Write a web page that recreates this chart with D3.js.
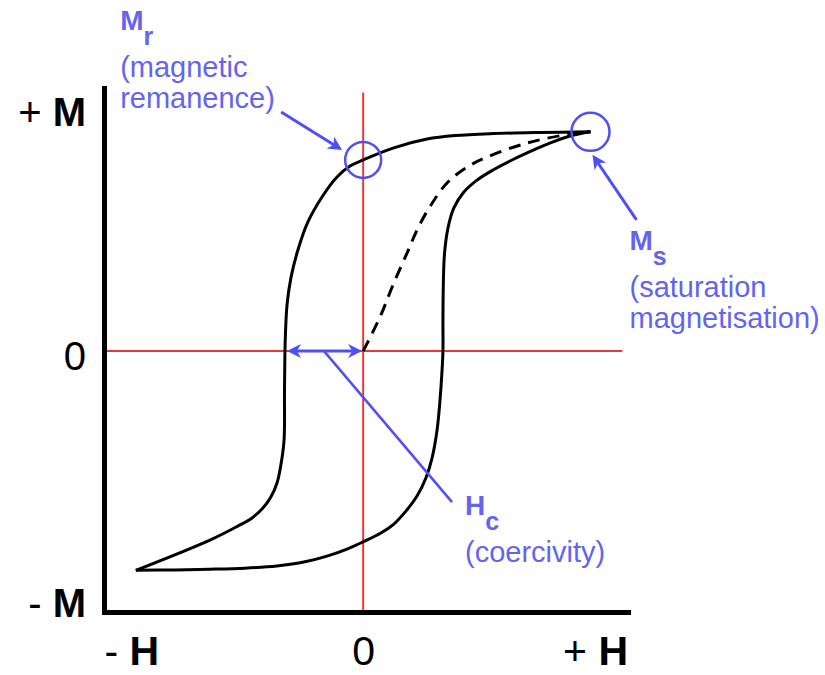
<!DOCTYPE html>
<html>
<head>
<meta charset="utf-8">
<script src="https://cdn.jsdelivr.net/npm/d3@7"></script>
<style>
  html, body { margin: 0; padding: 0; background: #ffffff; }
  svg { display: block; font-family: "Liberation Sans", Arial, Helvetica, sans-serif; }
</style>
</head>
<body>
<svg id="chart" width="825" height="675"></svg>
<script>
// Hysteresis loop: applied field H (in units of the saturating field)
// against magnetisation M (in units of the saturation magnetisation Ms).

// Upper branch: field reduced from +Hs down to -Hs
const upperH = [1.0, 0.778, 0.571, 0.404, 0.281, 0.131, 0.0, -0.058, -0.115, -0.181, -0.243, -0.287, -0.318, -0.335, -0.342, -0.344, -0.346, -0.348, -0.362, -0.379, -0.406, -0.441, -0.490, -0.551, -0.674, -1.0];
const upperM = [1.0, 0.997, 0.992, 0.983, 0.967, 0.926, 0.872, 0.844, 0.794, 0.703, 0.589, 0.461, 0.333, 0.210, 0.073, 0.0, -0.180, -0.406, -0.520, -0.602, -0.666, -0.716, -0.762, -0.798, -0.862, -1.0];

// Lower branch: field raised from -Hs back up to +Hs
const lowerH = [-1.0, -0.829, -0.674, -0.520, -0.380, -0.256, -0.159, -0.071, 0.0, 0.078, 0.135, 0.188, 0.237, 0.276, 0.303, 0.325, 0.338, 0.347, 0.351, 0.351, 0.353, 0.358, 0.373, 0.399, 0.443, 0.501, 0.571, 0.646, 0.721, 0.813, 0.910, 1.0];
const lowerM = [-1.0, -0.998, -0.995, -0.990, -0.980, -0.961, -0.935, -0.903, -0.870, -0.830, -0.789, -0.730, -0.661, -0.579, -0.488, -0.361, -0.224, -0.088, 0.0, 0.142, 0.324, 0.447, 0.561, 0.653, 0.726, 0.780, 0.826, 0.867, 0.904, 0.945, 0.981, 1.0];

// Initial magnetisation curve from the demagnetised state
const initialH = [0.0, 0.074, 0.131, 0.193, 0.241, 0.298, 0.369, 0.457, 0.545, 0.721, 0.910, 1.0];
const initialM = [0.0, 0.155, 0.301, 0.447, 0.561, 0.666, 0.767, 0.839, 0.885, 0.949, 0.990, 1.0];

// Axis tick labels
const hTickValues = [-1.02, 0, 1.02];
const hTickLabels = ["- H", "0", "+ H"];
const mTickValues = [-1.13, 0, 1.11];
const mTickLabels = ["- M", "0", "+ M"];

// Characteristic points of the loop
const remanence = { h: 0, m: 0.872 };    // Mr
const saturation = { h: 1, m: 1 };       // Ms
const coercivity = { h: -0.344, m: 0 };  // Hc

const svg = d3.select("#chart");
const W = 825, H = 675;

const x = d3.scaleLinear().domain([-1.14, 1.165]).range([104, 628]);
const y = d3.scaleLinear().domain([-1.19, 1.2]).range([612, 88]);

const RED = "#e8393b";
const BLUE = "#5050f2";
const BLUE_TEXT = "#6464ee";

svg.append("rect").attr("width", W).attr("height", H).attr("fill", "#ffffff");

// Arrowhead marker
const defs = svg.append("defs");
defs.append("marker")
  .attr("id", "arrow")
  .attr("viewBox", "-8 -8 18 16")
  .attr("refX", 0).attr("refY", 0)
  .attr("markerWidth", 18).attr("markerHeight", 16)
  .attr("markerUnits", "userSpaceOnUse")
  .attr("orient", "auto-start-reverse")
  .append("path")
  .attr("d", "M8,0 L-6,-7 L-2,0 L-6,7 Z")
  .attr("fill", BLUE);

// Reference lines through the origin
svg.append("line")
  .attr("x1", x(0)).attr("x2", x(0))
  .attr("y1", y(-1.19)).attr("y2", y(1.18))
  .attr("stroke", RED).attr("stroke-width", 2);
svg.append("line")
  .attr("x1", x(-1.14)).attr("x2", x(1.14))
  .attr("y1", y(0)).attr("y2", y(0))
  .attr("stroke", RED).attr("stroke-width", 2);

// Axes
function styleTicks(sel, fontSize, dy) {
  sel.attr("font-size", null).attr("font-family", null);
  sel.selectAll(".tick line").remove();
  sel.select(".domain")
    .attr("stroke", "#000").attr("stroke-width", 5)
    .attr("stroke-linecap", "square");
  sel.selectAll(".tick text")
    .attr("fill", "#000")
    .attr("font-size", fontSize)
    .attr("dy", dy)
    .each(function () {
      const t = d3.select(this);
      const label = t.text();
      t.text(null);
      const parts = label.match(/^([+-]) (.+)$/);
      if (parts) {
        t.append("tspan").text(parts[1] + "\u00a0");
        t.append("tspan").attr("font-weight", "bold").text(parts[2]);
      } else {
        t.append("tspan").text(label);
      }
    });
}

const xAxis = d3.axisBottom(x)
  .tickValues(hTickValues)
  .tickFormat((d, i) => hTickLabels[i])
  .tickSize(0).tickSizeOuter(0).tickPadding(53);
svg.append("g")
  .attr("transform", `translate(0,${y.range()[0]})`)
  .call(xAxis)
  .call(g => styleTicks(g, 41, "0"));

const yAxis = d3.axisLeft(y)
  .tickValues(mTickValues)
  .tickFormat((d, i) => mTickLabels[i])
  .tickSize(0).tickSizeOuter(0).tickPadding(18);
svg.append("g")
  .attr("transform", `translate(${x.range()[0]},0)`)
  .call(yAxis)
  .call(g => styleTicks(g, 40, "0.45em"));

// Loop curves
const line = d3.line()
  .x(d => x(d[0]))
  .y(d => y(d[1]))
  .curve(d3.curveCatmullRom.alpha(0.5));

const zip = (a, b) => a.map((v, i) => [v, b[i]]);

svg.append("path")
  .attr("d", line(zip(initialH, initialM)))
  .attr("fill", "none").attr("stroke", "#000")
  .attr("stroke-width", 3).attr("stroke-dasharray", "12,8");

svg.append("path")
  .attr("d", line(zip(upperH, upperM)))
  .attr("fill", "none").attr("stroke", "#000").attr("stroke-width", 3)
  .attr("stroke-linejoin", "round");

svg.append("path")
  .attr("d", line(zip(lowerH, lowerM)))
  .attr("fill", "none").attr("stroke", "#000").attr("stroke-width", 3)
  .attr("stroke-linejoin", "round");

// Annotation helpers
function arrowLine(x1, y1, x2, y2, both) {
  const dx = x2 - x1, dy = y2 - y1, len = Math.hypot(dx, dy);
  const ux = dx / len, uy = dy / len, cut = 8;
  const l = svg.append("line")
    .attr("x1", both ? x1 + ux * cut : x1).attr("y1", both ? y1 + uy * cut : y1)
    .attr("x2", x2 - ux * cut).attr("y2", y2 - uy * cut)
    .attr("stroke", BLUE).attr("stroke-width", 3)
    .attr("marker-end", "url(#arrow)");
  if (both) l.attr("marker-start", "url(#arrow)");
}

function label(px, py, symbol, sub, lines) {
  const g = svg.append("g").attr("fill", BLUE_TEXT);
  const t = g.append("text").attr("x", px).attr("y", py).attr("font-weight", "bold");
  t.append("tspan").attr("font-size", 28).text(symbol);
  t.append("tspan").attr("font-size", 25).attr("dy", 15).text(sub);
  lines.forEach((s, i) => {
    g.append("text")
      .attr("x", px).attr("y", py + 47 + i * 31)
      .attr("font-size", 29).text(s);
  });
}

// Remanence Mr
const rx = x(remanence.h), ry = y(remanence.m);
svg.append("circle").attr("cx", rx).attr("cy", ry).attr("r", 18)
  .attr("fill", "none").attr("stroke", BLUE).attr("stroke-width", 2.5);
arrowLine(rx - 82, ry - 48, rx - 21, ry - 10, false);
label(rx - 243, ry - 130, "M", "r", ["(magnetic", "remanence)"]);

// Saturation Ms
const sx = x(saturation.h), sy = y(saturation.m);
svg.append("circle").attr("cx", sx).attr("cy", sy).attr("r", 19)
  .attr("fill", "none").attr("stroke", BLUE).attr("stroke-width", 2.5);
arrowLine(sx + 46, sy + 88, sx + 2, sy + 23, false);
label(sx + 39, sy + 118, "M", "s", ["(saturation", "magnetisation)"]);

// Coercivity Hc
const cx0 = x(coercivity.h), cy0 = y(coercivity.m);
arrowLine(cx0 + 2, cy0, x(0) - 1, cy0, true);
const midX = (cx0 + x(0)) / 2;
svg.append("line")
  .attr("x1", midX).attr("y1", cy0)
  .attr("x2", midX + 128).attr("y2", cy0 + 151)
  .attr("stroke", BLUE).attr("stroke-width", 2.5);
const hcText = svg.append("g").attr("fill", BLUE_TEXT);
const ht = hcText.append("text").attr("x", midX + 141).attr("y", cy0 + 164).attr("font-weight", "bold");
ht.append("tspan").attr("font-size", 28).text("H");
ht.append("tspan").attr("font-size", 25).attr("dy", 15).text("c");
hcText.append("text").attr("x", midX + 141).attr("y", cy0 + 211)
  .attr("font-size", 29).text("(coercivity)");
</script>
</body>
</html>
